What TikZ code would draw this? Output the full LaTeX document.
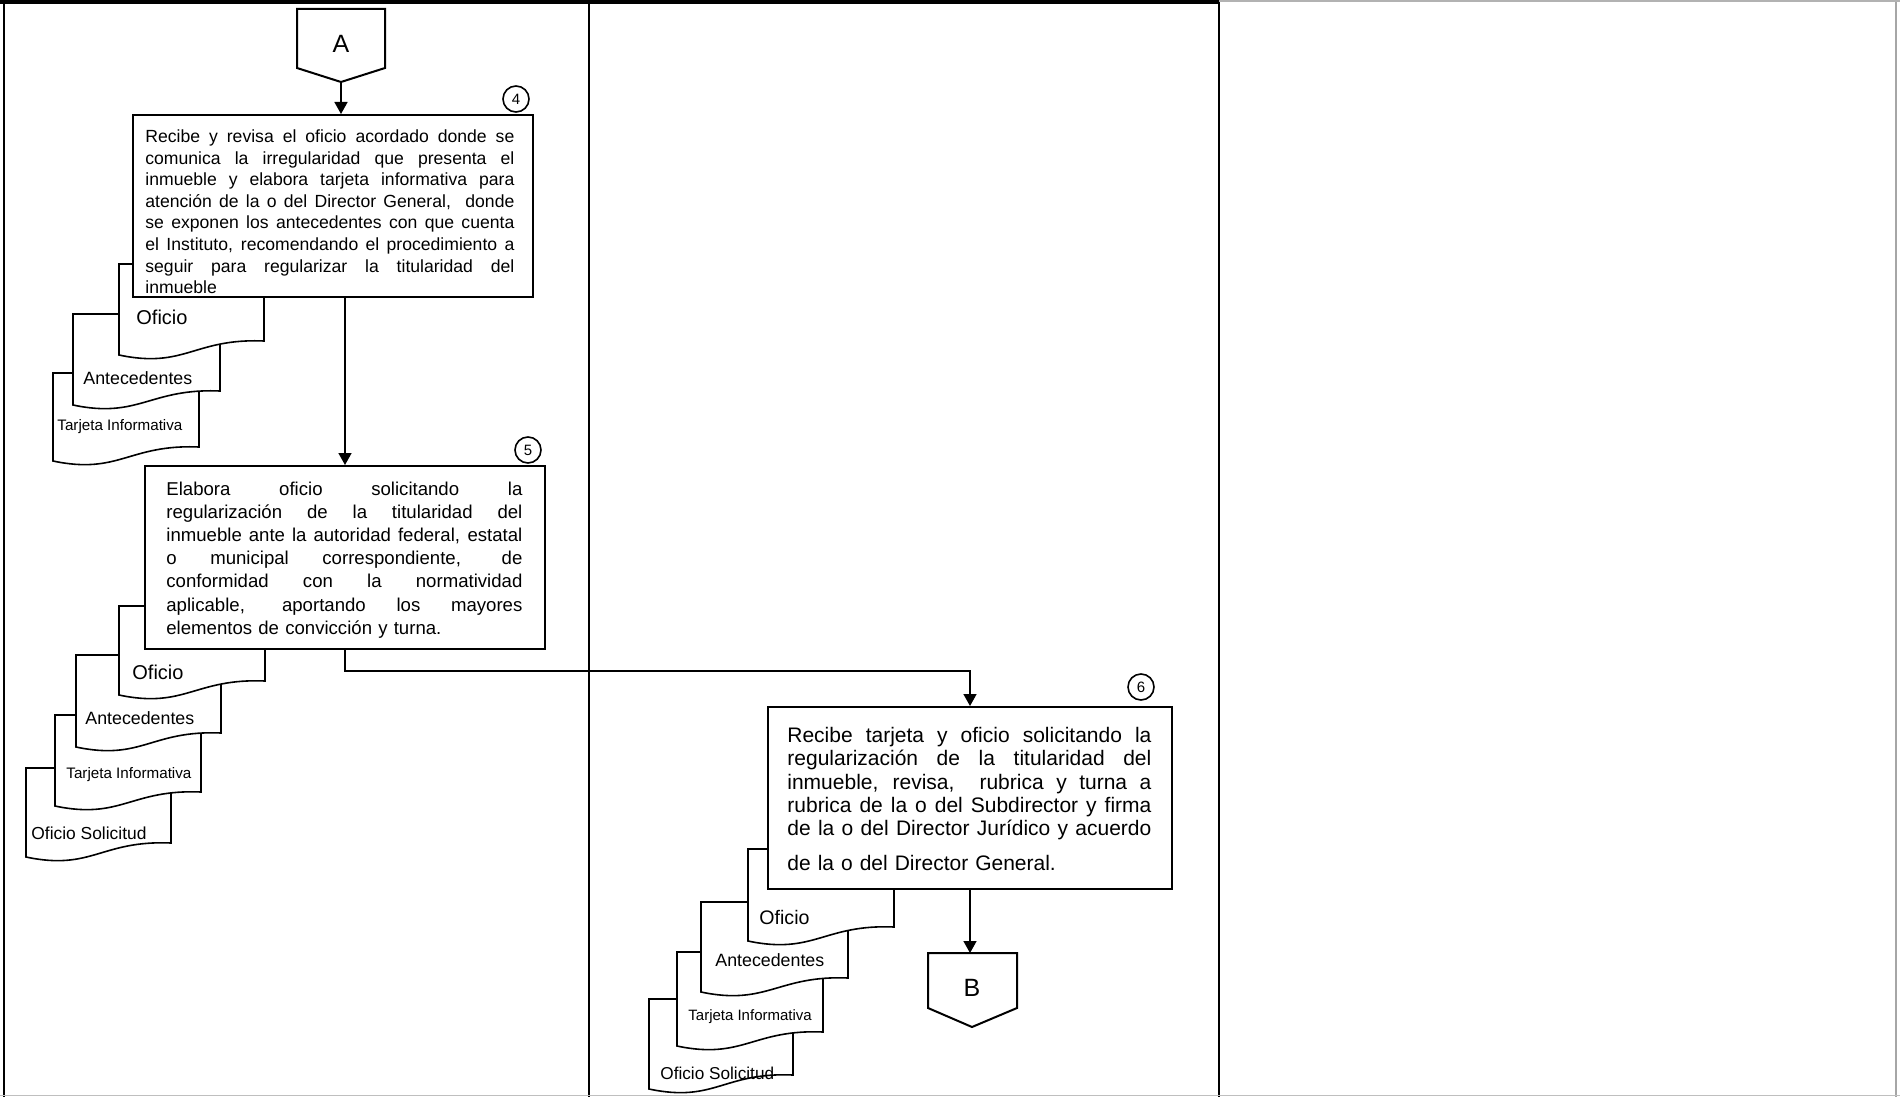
\documentclass[tikz,border=0pt]{standalone}
\usepackage{fontspec}
\setmainfont{Liberation Sans}
\usetikzlibrary{positioning}
\usetikzlibrary{arrows.meta}

\newcommand{\jl}[1]{\makebox[\hsize][s]{\spaceskip=0pt\xspaceskip=0pt #1}\\}

\begin{document}
\begin{tikzpicture}[x=0.5pt, y=-0.5pt,
	flow/.style={line width=.8pt, -{Triangle[length=6pt, width=6.5pt]}},
	lane/.style={line width=.8pt},
	docu/.style={line width=.8pt, fill=white},
	procbox/.style={draw, line width=1pt, fill=white, inner sep=0pt},
	steptxt/.style={anchor=base west, inner sep=0pt, text width=#1, align=left},
	numcirc/.style={draw, circle, line width=.8pt, minimum size=13pt, inner sep=0pt, fill=white, font=\fontsize{7.5}{8}\selectfont},
	doctxt/.style={anchor=base west, inner sep=0pt},
	conlabel/.style={inner sep=0pt, font=\fontsize{12.5}{14}\selectfont}
	]
	\useasboundingbox (0,0) rectangle (1900,1097);

	% marco y carriles
	\draw[lane] (4,0) -- (4,1097);
	\draw[lane] (589,0) -- (589,1097);
	\draw[lane] (1219,0) -- (1219,1097);
	\draw[lane, gray!70] (1896,0) -- (1896,1097);
	\draw[line width=2pt] (0,2) -- (1219,2);
	\draw[line width=.6pt, gray!60] (1219,1) -- (1900,1);
	\draw[line width=.5pt, gray!50] (0,1095) -- (1900,1095);

	% conector A
	\node[shape=coordinate] (atl) at (297,9) {};
	\node[shape=coordinate] (atr) at (385,9) {};
	\node[shape=coordinate] (ar) at (385,68) {};
	\node[shape=coordinate] (atip) at (341,82) {};
	\node[shape=coordinate] (al) at (297,68) {};
	\draw[line width=1pt, fill=white] (atl) -- (atr) -- (ar) -- (atip) -- (al) -- cycle;
	\node[conlabel] (conA) at (341,44) {A};

	% documentos paso 4
	\draw[docu] (53,373) -- (199,373) -- (199,447) .. controls +(-70,-3) and +(66,14) .. (53,461) -- cycle;
	\draw[docu] (73,314) -- (220,314) -- (220,391) .. controls +(-70,-3) and +(66,14) .. (73,405) -- cycle;
	\draw[docu] (119,264) -- (264,264) -- (264,341) .. controls +(-70,-3) and +(66,14) .. (119,355) -- cycle;
	\node[doctxt, font=\fontsize{7.6}{9}\selectfont] (tar4) at (57,430) {Tarjeta Informativa};
	\node[doctxt, font=\fontsize{8.9}{10}\selectfont] (ant4) at (83,384) {Antecedentes};
	\node[doctxt, font=\fontsize{10}{12}\selectfont] (of4) at (136,324) {Oficio};

	% paso 4
	\node[procbox, minimum width=200pt, minimum height=91pt] (box4) at (333,206) {};
	\node[steptxt=184.5pt, font=\fontsize{8.8}{10.8}\selectfont] (box4txt) at (145,142.5) {%
		\jl{Recibe y revisa el oficio acordado donde se}
		\jl{comunica la irregularidad que presenta el}
		\jl{inmueble y elabora tarjeta informativa para}
		\jl{atención de la o del Director General,\ \ donde}
		\jl{se exponen los antecedentes con que cuenta}
		\jl{el Instituto, recomendando el procedimiento a}
		\jl{seguir para regularizar la titularidad del}
		inmueble};
	\node[numcirc] (n4) at (516,99) {4};
	\draw[flow] (atip) -- (atip |- box4.north);

	% documentos paso 5
	\draw[docu] (26,768) -- (171,768) -- (171,843) .. controls +(-70,-3) and +(66,14) .. (26,857) -- cycle;
	\draw[docu] (55,715) -- (201,715) -- (201,792) .. controls +(-70,-3) and +(66,14) .. (55,806) -- cycle;
	\draw[docu] (76,655) -- (221,655) -- (221,733) .. controls +(-70,-3) and +(66,14) .. (76,747) -- cycle;
	\draw[docu] (119,606) -- (265,606) -- (265,681) .. controls +(-70,-3) and +(66,14) .. (119,695) -- cycle;
	\node[doctxt, font=\fontsize{8.7}{10}\selectfont] (sol5) at (31,839) {Oficio Solicitud};
	\node[doctxt, font=\fontsize{7.6}{9}\selectfont] (tar5) at (66,778) {Tarjeta Informativa};
	\node[doctxt, font=\fontsize{8.9}{10}\selectfont] (ant5) at (85,724) {Antecedentes};
	\node[doctxt, font=\fontsize{10}{12}\selectfont] (of5) at (132,679) {Oficio};

	% paso 5
	\node[procbox, minimum width=200pt, minimum height=91.5pt] (box5) at (345,557.5) {};
	\node[steptxt=178pt, font=\fontsize{9.3}{11.6}\selectfont] (box5txt) at (166,495) {%
		\jl{Elabora oficio solicitando la}
		\jl{regularización de la titularidad del}
		\jl{inmueble ante la autoridad federal, estatal}
		\jl{o municipal correspondiente, de}
		\jl{conformidad con la normatividad}
		\jl{aplicable, aportando los mayores}
		elementos de convicción y turna.};
	\node[numcirc] (n5) at (528,450) {5};
	\draw[flow] (box5.north |- box4.south) -- (box5.north);

	% documentos paso 6
	\draw[docu] (649,999) -- (793,999) -- (793,1075) .. controls +(-70,-3) and +(66,14) .. (649,1089) -- cycle;
	\draw[docu] (677,952) -- (823,952) -- (823,1032) .. controls +(-70,-3) and +(66,14) .. (677,1046) -- cycle;
	\draw[docu] (701,902) -- (848,902) -- (848,978) .. controls +(-70,-3) and +(66,14) .. (701,992) -- cycle;
	\draw[docu] (748,849) -- (894,849) -- (894,927) .. controls +(-70,-3) and +(66,14) .. (748,941) -- cycle;
	\node[doctxt, font=\fontsize{8.6}{10}\selectfont] (sol6) at (660,1079) {Oficio Solicitud};
	\node[doctxt, font=\fontsize{7.5}{9}\selectfont] (tar6) at (688,1020) {Tarjeta Informativa};
	\node[doctxt, font=\fontsize{8.9}{10}\selectfont] (ant6) at (715,966) {Antecedentes};
	\node[doctxt, font=\fontsize{9.8}{12}\selectfont] (of6) at (759,924) {Oficio};

	% paso 6
	\node[procbox, minimum width=202pt, minimum height=91pt] (box6) at (970,798) {};
	\node[steptxt=182pt, font=\fontsize{10.5}{11.65}\selectfont] (box6txt) at (787,742.5) {%
		\jl{Recibe tarjeta y oficio solicitando la}
		\jl{regularización de la titularidad del}
		\jl{inmueble, revisa,\ \ rubrica y turna a}
		\jl{rubrica de la o del Subdirector y firma}
		\makebox[\hsize][s]{\spaceskip=0pt\xspaceskip=0pt de la o del Director Jurídico y acuerdo}\\[5.8pt]
		de la o del Director General.};
	\node[numcirc] (n6) at (1141,687) {6};
	\draw[flow] (box5.south) -- ++(0,21) -| (box6.north);

	% conector B
	\node[shape=coordinate] (btl) at (928,953) {};
	\node[shape=coordinate] (btr) at (1017,953) {};
	\node[shape=coordinate] (br) at (1017,1008) {};
	\node[shape=coordinate] (btip) at (972,1027) {};
	\node[shape=coordinate] (bl) at (928,1008) {};
	\draw[line width=1pt, fill=white] (btl) -- (btr) -- (br) -- (btip) -- (bl) -- cycle;
	\node[conlabel] (conB) at (972,988) {B};
	\draw[flow] (box6.south) -- (box6.south |- btl);
\end{tikzpicture}
\end{document}
